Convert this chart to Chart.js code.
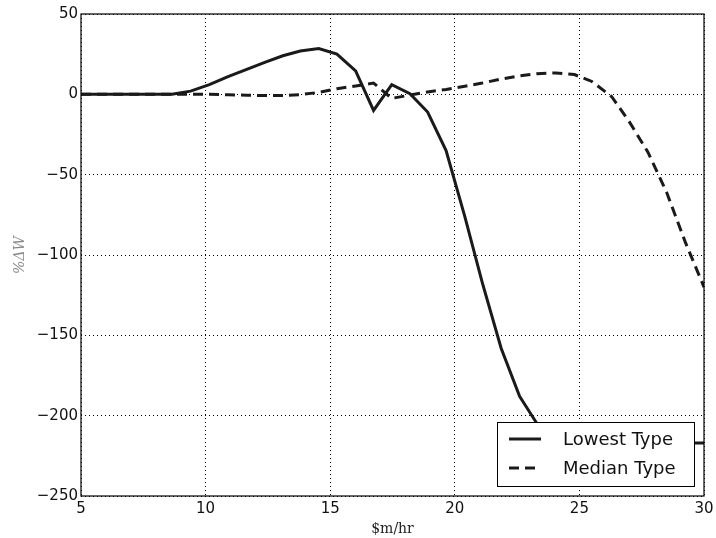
<!DOCTYPE html>
<html>
<head>
<meta charset="utf-8">
<script src="https://cdn.jsdelivr.net/npm/chart.js@4.4.0/dist/chart.umd.min.js"></script>
<style>
    html, body { margin: 0; padding: 0; background: #fff; }
    #wrap { width: 716px; height: 538px; }
</style>
</head>
<body>
<div id="wrap"><canvas id="chart" width="716" height="538"></canvas></div>
<script>
// 数据: 横轴 $m/hr, 纵轴 %ΔW
const lowestX = [5, 6, 7, 8, 8.65, 9.4, 10.15, 10.9, 11.65, 12.4, 13.1, 13.8, 14.54, 15.27, 16.02, 16.74, 17.47, 18.2, 18.91, 19.65, 20.4, 21.1, 21.86, 22.6, 23.3, 24.05, 24.8, 25.6, 26.5, 28, 30];
const lowestY = [0, 0, 0, 0, 0, 2, 6, 11, 15.5, 20, 24, 27, 28.5, 25, 14.6, -10, 6, 0.4, -11, -35, -76, -117, -158, -188, -205, -211, -214.5, -216, -216.8, -217, -217];

const medianX = [5, 6, 7, 8, 9, 9.4, 10.15, 10.9, 11.65, 12.4, 13.1, 13.8, 14.54, 15.27, 16.02, 16.74, 17.47, 18.2, 18.91, 19.65, 20.4, 21.1, 21.86, 22.6, 23.3, 24.06, 24.8, 25.5, 26.3, 27.0, 27.75, 28.5, 29.25, 30];
const medianY = [0, 0, 0, 0, 0, 0, 0, -0.3, -0.5, -0.8, -0.8, -0.2, 1.2, 3.5, 5.2, 7, -2.5, -0.5, 1.5, 3, 5, 7, 9.5, 11.5, 12.8, 13.3, 12.3, 8, -1.5, -17, -36, -61, -92, -120];

const seriesNames = ['Lowest Type', 'Median Type'];
const xTicks = [5, 10, 15, 20, 25, 30];
const yTicks = [50, 0, -50, -100, -150, -200, -250];

const toPoints = (xs, ys) => xs.map((x, i) => ({ x: x, y: ys[i] }));

// 坐标区边框 + 图例
const framePlugin = {
    id: 'frame',
    afterDraw(chart) {
        const { ctx, chartArea: a } = chart;
        ctx.save();
        ctx.strokeStyle = '#000';
        ctx.lineWidth = 1.2;
        ctx.setLineDash([]);
        ctx.strokeRect(a.left, a.top, a.right - a.left, a.bottom - a.top);

        // 图例框
        const w = 197, h = 64;
        const bx = a.right - 10 - w, by = a.bottom - 10 - h;
        ctx.fillStyle = '#fff';
        ctx.fillRect(bx, by, w, h);
        ctx.lineWidth = 1;
        ctx.strokeRect(bx + 0.5, by + 0.5, w, h);

        ctx.font = '18px "DejaVu Sans"';
        ctx.textBaseline = 'middle';
        ctx.textAlign = 'left';
        chart.data.datasets.forEach((ds, i) => {
            const yy = by + 17 + i * 29;
            ctx.strokeStyle = ds.borderColor;
            ctx.lineWidth = ds.borderWidth;
            ctx.setLineDash(ds.borderDash || []);
            ctx.beginPath();
            ctx.moveTo(bx + 12, yy);
            ctx.lineTo(bx + 44, yy);
            ctx.stroke();
            ctx.setLineDash([]);
            ctx.fillStyle = '#111';
            ctx.fillText(ds.label, bx + 66, yy + 1);
        });
        ctx.restore();
    }
};

const ctx = document.getElementById('chart').getContext('2d');
const chart = new Chart(ctx, {
    type: 'scatter',
    data: {
        datasets: [{
            label: seriesNames[0],
            data: toPoints(lowestX, lowestY),
            showLine: true,
            borderColor: '#1a1a1a',
            borderWidth: 3,
            pointRadius: 0,
            tension: 0
        }, {
            label: seriesNames[1],
            data: toPoints(medianX, medianY),
            showLine: true,
            borderColor: '#1a1a1a',
            borderWidth: 3,
            borderDash: [10, 6],
            pointRadius: 0,
            tension: 0
        }]
    },
    options: {
        responsive: false,
        animation: false,
        layout: { autoPadding: false, padding: { top: 14, right: 12, left: 0, bottom: 0 } },
        plugins: {
            legend: { display: false },
            tooltip: { enabled: false }
        },
        scales: {
            x: {
                type: 'linear',
                min: 5,
                max: 30,
                afterBuildTicks: (scale) => { scale.ticks = xTicks.map(v => ({ value: v })); },
                afterFit: (scale) => {
                    scale.height = 42;
                    scale.paddingLeft = 0;
                    scale.paddingRight = 0;
                },
                ticks: {
                    color: '#111',
                    font: { family: 'DejaVu Sans', size: 15 },
                    padding: 4,
                    maxRotation: 0
                },
                grid: {
                    color: '#000',
                    lineWidth: 1,
                    drawTicks: false
                },
                border: { display: false, dash: [1, 3] },
                title: {
                    display: true,
                    text: '$m/hr',
                    color: '#222',
                    font: { family: 'DejaVu Serif', size: 14 },
                    padding: { top: 0, bottom: 0 }
                }
            },
            y: {
                type: 'linear',
                min: -250,
                max: 50,
                afterBuildTicks: (scale) => { scale.ticks = yTicks.map(v => ({ value: v })); },
                afterFit: (scale) => { scale.width = 81; },
                ticks: {
                    color: '#111',
                    font: { family: 'DejaVu Sans', size: 15 },
                    padding: 3,
                    callback: (v) => String(v).replace('-', '\u2212')
                },
                grid: {
                    color: '#000',
                    lineWidth: 1,
                    drawTicks: false
                },
                border: { display: false, dash: [1, 3] },
                title: {
                    display: true,
                    text: '%ΔW',
                    color: '#888',
                    font: { family: 'DejaVu Serif', size: 14, style: 'italic' },
                    padding: { top: 12, bottom: 0 }
                }
            }
        }
    },
    plugins: [framePlugin]
});
</script>
</body>
</html>
